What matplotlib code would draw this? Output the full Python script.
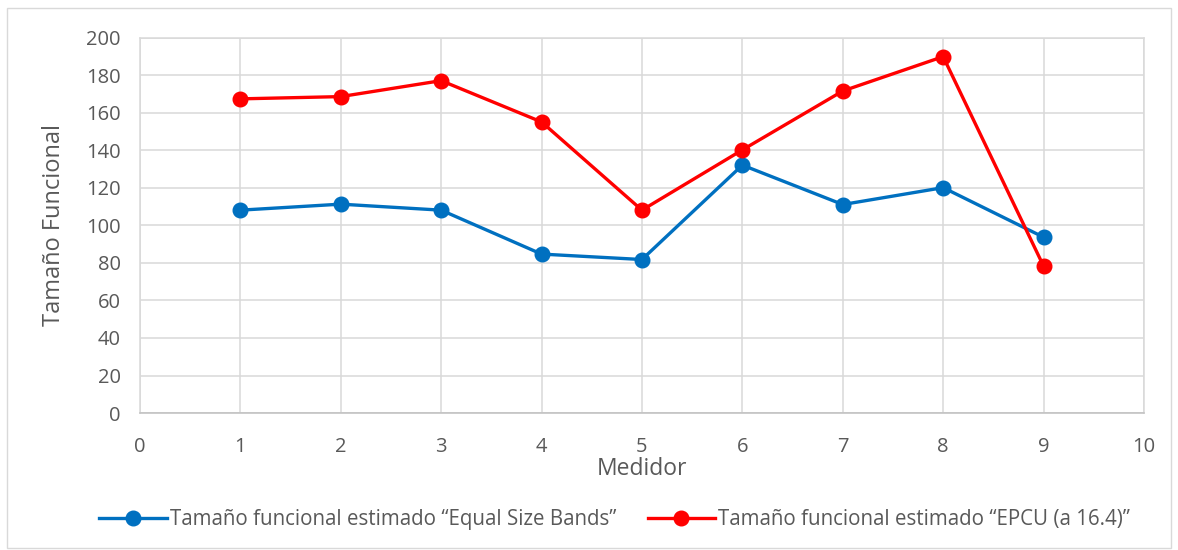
"""Tamaño funcional por medidor: Equal Size Bands vs EPCU."""

import matplotlib
matplotlib.use("Agg")
import matplotlib.pyplot as plt
from matplotlib.patches import Rectangle

medidor = [1, 2, 3, 4, 5, 6, 7, 8, 9]
equal_size_bands = [108.1, 111.3, 108.1, 84.7, 81.8, 132.1, 111.1, 120.1, 93.7]
epcu = [167.4, 168.6, 177.1, 155.1, 108.1, 140.2, 171.6, 189.9, 78.3]

label_esb = "Tamaño funcional estimado \u201cEqual Size Bands\u201d"
label_epcu = "Tamaño funcional estimado \u201cEPCU (a 16.4)\u201d"

TEXT = "#595959"
GRID = "#d9d9d9"

plt.rcParams["font.family"] = ["Open Sans", "DejaVu Sans"]

fig = plt.figure(figsize=(11.78, 5.5), dpi=100)
ax = fig.add_axes([0.1188, 0.249, 0.8523, 0.6825])

ax.plot(medidor, equal_size_bands, color="#0070c0", lw=2.4, marker="o",
        markersize=10.5, label=label_esb, zorder=3)
ax.plot(medidor, epcu, color="#ff0000", lw=2.4, marker="o",
        markersize=10.5, label=label_epcu, zorder=4)

ax.set_xlim(0, 10)
ax.set_ylim(0, 200)
ax.set_xticks(range(0, 11))
ax.set_yticks(range(0, 201, 20))
ax.grid(True, color=GRID, lw=1.1)
ax.set_axisbelow(True)
for side in ("left", "bottom", "right", "top"):
    ax.spines[side].set_color(GRID)
    ax.spines[side].set_linewidth(1.1)
ax.spines["bottom"].set_color("#bfbfbf")
ax.tick_params(length=0, labelsize=14.5, labelcolor=TEXT)
ax.tick_params(axis="x", pad=17)
ax.tick_params(axis="y", pad=14)

ax.set_xlabel("Medidor", fontsize=16.5, color=TEXT, labelpad=0)
ax.set_ylabel("Tamaño Funcional", fontsize=17, color=TEXT, labelpad=14)

leg = fig.legend(loc="center", bbox_to_anchor=(0.522, 0.055), ncol=2,
                 frameon=False, fontsize=14.8, handlelength=3.3,
                 handletextpad=0.15, columnspacing=1.5)
for t in leg.get_texts():
    t.set_color(TEXT)

fig.patches.append(Rectangle((0.006, 0.003), 0.988, 0.983, transform=fig.transFigure,
                             fill=False, edgecolor=GRID, lw=1.0))

fig.savefig("out.png", dpi=100)
